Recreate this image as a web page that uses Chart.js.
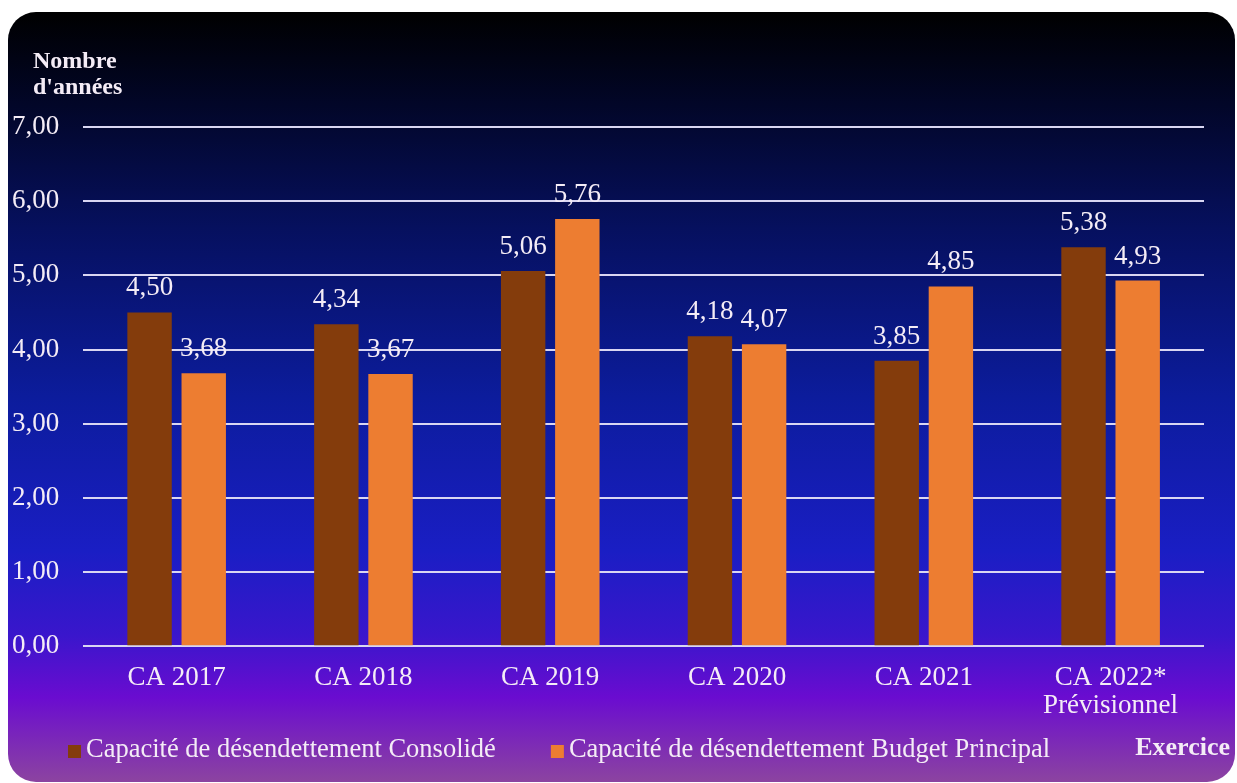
<!DOCTYPE html>
<html>
<head>
<meta charset="utf-8">
<script src="https://cdn.jsdelivr.net/npm/chart.js@4.4.1/dist/chart.umd.min.js"></script>
<style>
html,body{margin:0;padding:0;background:#ffffff;}
#wrap{width:1237px;height:783px;position:relative;}
</style>
</head>
<body>
<div id="wrap"><canvas id="c" width="1237" height="783"></canvas></div>
<script>
const categories = [["CA 2017"], ["CA 2018"], ["CA 2019"], ["CA 2020"], ["CA 2021"], ["CA 2022*", "Prévisionnel"]];
const consolide = [4.50, 4.34, 5.06, 4.18, 3.85, 5.38];
const budgetPrincipal = [3.68, 3.67, 5.76, 4.07, 4.85, 4.93];
const seriesNames = ["Capacité de désendettement Consolidé", "Capacité de désendettement Budget Principal"];
const yTicks = [0, 1, 2, 3, 4, 5, 6, 7];
const yAxisTitle = ["Nombre", "d'années"];
const xAxisTitle = "Exercice";

const SERIF = "'Liberation Serif', 'Times New Roman', serif";
const TEXT = "#f4ecf6";
const fmt = v => v.toFixed(2).replace('.', ',');

const cardPlugin = {
  id: 'card',
  beforeDraw(chart) {
    const ctx = chart.ctx;
    const W = chart.width, H = chart.height;
    ctx.save();
    ctx.fillStyle = '#ffffff';
    ctx.fillRect(0, 0, W, H);
    const x = 8, y = 12, w = 1227, h = 770, r = 28;
    const g = ctx.createLinearGradient(0, y, 0, y + h);
    g.addColorStop(0.00, '#000000');
    g.addColorStop(0.12, '#020628');
    g.addColorStop(0.28, '#06105e');
    g.addColorStop(0.50, '#0c1c9c');
    g.addColorStop(0.70, '#1a1ec4');
    g.addColorStop(0.81, '#3a16cc');
    g.addColorStop(0.89, '#6a0cd0');
    g.addColorStop(1.00, '#8c44a0');
    ctx.fillStyle = g;
    ctx.beginPath();
    ctx.roundRect(x, y, w, h, r);
    ctx.fill();
    ctx.restore();
  }
};

const labelsPlugin = {
  id: 'valueLabels',
  afterDatasetsDraw(chart) {
    const ctx = chart.ctx;
    ctx.save();
    ctx.fillStyle = TEXT;
    ctx.font = "27px " + SERIF;
    ctx.textAlign = 'center';
    ctx.textBaseline = 'alphabetic';
    chart.data.datasets.forEach((ds, di) => {
      const meta = chart.getDatasetMeta(di);
      meta.data.forEach((bar, i) => {
        ctx.fillText(fmt(ds.data[i]), bar.x, bar.y - 17);
      });
    });
    ctx.restore();
  }
};

const extrasPlugin = {
  id: 'extras',
  afterDraw(chart) {
    const ctx = chart.ctx;
    ctx.save();
    ctx.fillStyle = TEXT;
    ctx.font = "bold 24px " + SERIF;
    ctx.textAlign = 'left';
    ctx.textBaseline = 'middle';
    ctx.fillText(yAxisTitle[0], 33, 62);
    ctx.fillText(yAxisTitle[1], 33, 88);
    ctx.font = "bold 26px " + SERIF;
    ctx.textAlign = 'right';
    ctx.fillText(xAxisTitle, 1230, 748);
    ctx.font = "26.5px " + SERIF;
    ctx.textAlign = 'left';
    let lx = 68;
    const ly = 750;
    chart.data.datasets.forEach((ds) => {
      ctx.fillStyle = ds.backgroundColor;
      ctx.fillRect(lx, ly - 5, 13, 13);
      ctx.fillStyle = TEXT;
      ctx.fillText(ds.label, lx + 18, ly);
      lx += 18 + ctx.measureText(ds.label).width + 55;
    });
    ctx.restore();
  }
};

new Chart(document.getElementById('c'), {
  type: 'bar',
  data: {
    labels: categories,
    datasets: [
      { label: seriesNames[0], data: consolide, backgroundColor: '#843c0c' },
      { label: seriesNames[1], data: budgetPrincipal, backgroundColor: '#ed7d31' }
    ]
  },
  options: {
    responsive: false,
    animation: false,
    devicePixelRatio: 1,
    layout: { padding: { left: 12, right: 33, top: 127, bottom: 46 } },
    datasets: { bar: { categoryPercentage: 0.58, barPercentage: 0.82 } },
    plugins: { legend: { display: false }, tooltip: { enabled: false }, title: { display: false } },
    scales: {
      x: {
        grid: { display: false, drawTicks: false },
        border: { display: false },
        ticks: { color: TEXT, font: { family: SERIF, size: 27, lineHeight: 1.05 }, padding: 17, maxRotation: 0, autoSkip: false }
      },
      y: {
        min: 0, max: 7,
        afterBuildTicks: (axis) => { axis.ticks = yTicks.map(v => ({ value: v })); },
        grid: { color: '#d9d6f2', lineWidth: 2, drawTicks: false },
        border: { display: false },
        ticks: { color: TEXT, font: { family: SERIF, size: 27 }, padding: 12, crossAlign: 'far', callback: v => fmt(v) }
      }
    }
  },
  plugins: [cardPlugin, labelsPlugin, extrasPlugin]
});
</script>
</body>
</html>
